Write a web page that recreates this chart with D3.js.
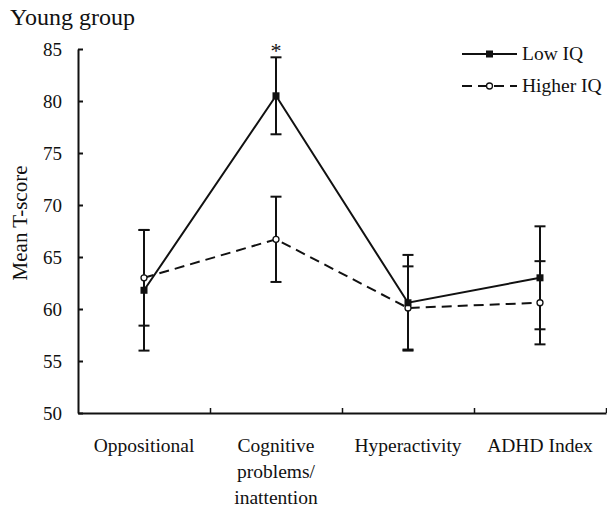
<!DOCTYPE html>
<html>
<head>
<meta charset="utf-8">
<script src="https://cdn.jsdelivr.net/npm/d3@7"></script>
<style>
  body { margin: 0; background: #fff; }
  svg { display: block; }
  text { font-family: "Liberation Serif", "Times New Roman", serif; fill: #111; }
</style>
</head>
<body>
<svg id="chart" width="607" height="508"></svg>
<script>
// ---- data ----
const categories = ["Oppositional", "Cognitive problems/ inattention", "Hyperactivity", "ADHD Index"];
const categoryLines = [["Oppositional"], ["Cognitive", "problems/", "inattention"], ["Hyperactivity"], ["ADHD Index"]];
const seriesNames = ["Low IQ", "Higher IQ"];
const lowIQMean = [61.8, 80.5, 60.6, 63.0];
const lowIQErr = [5.8, 3.7, 4.6, 4.95];
const higherIQMean = [63.0, 66.7, 60.1, 60.6];
const higherIQErr = [4.6, 4.1, 4.0, 4.0];
const yTicks = [50, 55, 60, 65, 70, 75, 80, 85];
const significant = [false, true, false, false];

(function () {
const svg = d3.select("#chart");
const mLeft = 78, mRight = 606, mTop = 49, mBottom = 413;

const x = d3.scaleBand().domain(categories).range([mLeft, mRight]);
const xIdx = d3.scaleLinear().domain([0, categories.length]).range([mLeft, mRight]);
const y = d3.scaleLinear().domain([50, 85]).range([mBottom, mTop]);
const cx = c => x(c) + x.bandwidth() / 2;

// title
svg.append("text").attr("x", 10).attr("y", 25).attr("font-size", 24).text("Young group");

// y axis
const yAxis = svg.append("g").attr("transform", `translate(${mLeft},0)`)
  .call(d3.axisLeft(y).tickValues(yTicks).tickSize(-5).tickSizeOuter(0).tickPadding(16));
yAxis.select(".domain").attr("stroke", "#111").attr("stroke-width", 2);
yAxis.selectAll(".tick line").attr("stroke", "#111").attr("stroke-width", 2);
yAxis.selectAll(".tick text").attr("font-size", 19).attr("fill", "#111");

// x axis (boundary ticks)
const xAxis = svg.append("g").attr("transform", `translate(0,${mBottom})`)
  .call(d3.axisBottom(xIdx).tickValues(d3.range(1, categories.length + 1)).tickSize(-5).tickSizeOuter(0).tickFormat(""));
xAxis.select(".domain").attr("stroke", "#111").attr("stroke-width", 2);
xAxis.selectAll(".tick line").attr("stroke", "#111").attr("stroke-width", 1.5);

// category labels
categories.forEach((c, i) => {
  const t = svg.append("text").attr("text-anchor", "middle").attr("font-size", 19.5);
  categoryLines[i].forEach((ln, j) => {
    t.append("tspan").attr("x", cx(c)).attr("y", 452 + j * 26).text(ln);
  });
});

// y label
svg.append("text").attr("transform", `translate(27,223) rotate(-90)`)
  .attr("text-anchor", "middle").attr("font-size", 21).text("Mean T-score");

// series
const series = [
  { name: seriesNames[0], mean: lowIQMean, err: lowIQErr, dash: null, marker: "square" },
  { name: seriesNames[1], mean: higherIQMean, err: higherIQErr, dash: "10,6", marker: "circle" }
];
const line = d3.line().x(d => cx(d.c)).y(d => y(d.v));
const capW = 5.5;

// error bars (drawn first)
series.forEach(s => {
  const g = svg.append("g");
  categories.forEach((c, i) => {
    const hi = s.mean[i] + s.err[i], lo = s.mean[i] - s.err[i];
    g.append("line").attr("x1", cx(c)).attr("x2", cx(c)).attr("y1", y(hi)).attr("y2", y(lo))
      .attr("stroke", "#111").attr("stroke-width", 2);
    [hi, lo].forEach(v => {
      g.append("line").attr("x1", cx(c) - capW).attr("x2", cx(c) + capW).attr("y1", y(v)).attr("y2", y(v))
        .attr("stroke", "#111").attr("stroke-width", 2);
    });
  });
});

series.slice().reverse().forEach(s => {
  const pts = categories.map((c, i) => ({ c, v: s.mean[i] }));
  svg.append("path").datum(pts).attr("d", line).attr("fill", "none")
    .attr("stroke", "#111").attr("stroke-width", 2)
    .attr("stroke-dasharray", s.dash);
  const g = svg.append("g");
  pts.forEach(p => {
    if (s.marker === "square") {
      g.append("rect").attr("x", cx(p.c) - 3.5).attr("y", y(p.v) - 3.5).attr("width", 7).attr("height", 7).attr("fill", "#111");
    } else {
      g.append("circle").attr("cx", cx(p.c)).attr("cy", y(p.v)).attr("r", 3).attr("fill", "#fff")
        .attr("stroke", "#111").attr("stroke-width", 1.3);
    }
  });
});

// significance asterisk
categories.forEach((c, i) => {
  if (!significant[i]) return;
  const hiVal = Math.max(lowIQMean[i] + lowIQErr[i], higherIQMean[i] + higherIQErr[i]);
  svg.append("text").attr("x", cx(c)).attr("y", y(hiVal) + 1).attr("text-anchor", "middle")
    .attr("font-size", 22).text("*");
});

// legend
const legY = [54, 86];
series.forEach((s, i) => {
  const g = svg.append("g");
  g.append("line").attr("x1", 462).attr("x2", 517).attr("y1", legY[i]).attr("y2", legY[i])
    .attr("stroke", "#111").attr("stroke-width", 2).attr("stroke-dasharray", s.dash);
  if (s.marker === "square") {
    g.append("rect").attr("x", 489.5 - 3.5).attr("y", legY[i] - 3.5).attr("width", 7).attr("height", 7).attr("fill", "#111");
  } else {
    g.append("circle").attr("cx", 489.5).attr("cy", legY[i]).attr("r", 3).attr("fill", "#fff")
      .attr("stroke", "#111").attr("stroke-width", 1.3);
  }
  g.append("text").attr("x", 522).attr("y", legY[i] + 6).attr("font-size", 19.5).text(s.name);
});
})();
</script>
</body>
</html>
